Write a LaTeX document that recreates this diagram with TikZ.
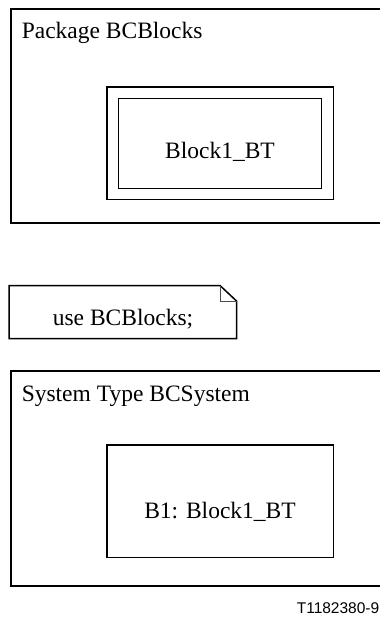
\documentclass[tikz,border=0pt]{standalone}
\usepackage{fontspec}
\setmainfont{Liberation Serif}
\newfontfamily\tagfont{Liberation Sans}

\tikzset{every picture/.style={line width=1.5pt}}

\begin{document}
\begin{tikzpicture}[
            x=1pt,
            y=1pt,
            yscale=-1,
            xscale=1,
            every node/.style={text=black,font=\fontsize{23.5}{28}\selectfont},
            line width=1.5pt
        ]
            \clip (0,0) rectangle (380,621);
            % package
            \draw   (11,9) -- (384,9) -- (384,223) -- (11,223) -- cycle ;
            \draw   (107,87) -- (333.3,87) -- (333.3,199.5) -- (107,199.5) -- cycle ;
            \draw   (118.3,98.5) -- (321.7,98.5) -- (321.7,188.5) -- (118.3,188.5) -- cycle ;
            % note
            \draw   (9,285.5) -- (220,285.5) -- (236.5,301) -- (236.5,338.5) -- (9,338.5) -- cycle ;
            \draw  [draw=black!70,line width=1pt] (220,285.5) -- (220,301) -- (236.5,301) ;
            % system
            \draw   (11,371) -- (384,371) -- (384,586) -- (11,586) -- cycle ;
            \draw   (107,445) -- (333.3,445) -- (333.3,557.5) -- (107,557.5) -- cycle ;

            \draw (21,38.5) node [anchor=base west][inner sep=0pt] (pkgname) {Package BCBlocks};
            \draw (220,158.5) node [anchor=base][inner sep=0pt] (blocktype) {Block1\_BT};
            \draw (123,325) node [anchor=base][inner sep=0pt] (usetext) {use BCBlocks;};
            \draw (21,401) node [anchor=base west][inner sep=0pt] (sysname) {System Type BCSystem};
            \draw (220,518.5) node [anchor=base][inner sep=0pt] (blockinst) {B1: Block1\_BT};
            \draw (380,613) node [anchor=base east][inner sep=0pt,font=\tagfont\fontsize{15.5}{18}\selectfont] (figtag) {T1182380-9};
        \end{tikzpicture}
\end{document}
